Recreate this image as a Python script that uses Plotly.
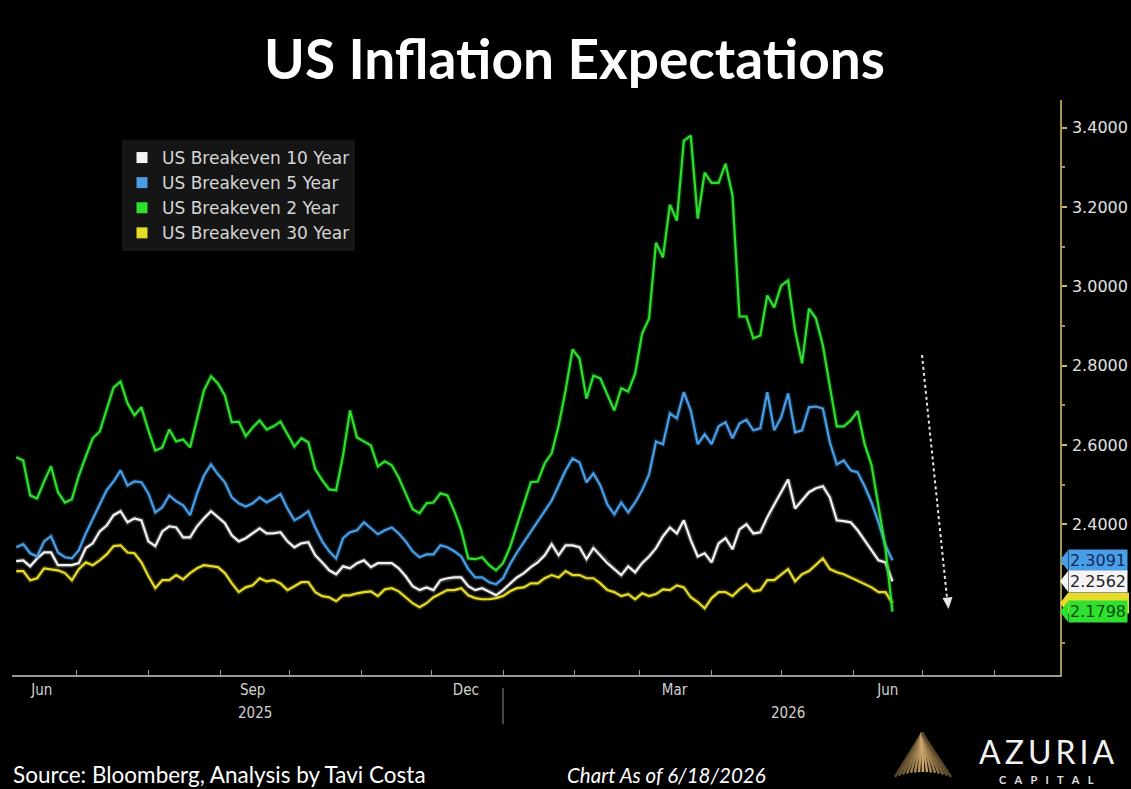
import pandas as pd
import plotly.graph_objects as go

# Observation dates (every third calendar day up to the chart date)
dates = pd.date_range("2025-06-05", "2026-06-18", freq="3D")

be10 = [2.307, 2.309, 2.294, 2.314, 2.329, 2.329, 2.297, 2.297, 2.297, 2.302,
        2.340, 2.352, 2.382, 2.397, 2.423, 2.433, 2.405, 2.415, 2.410, 2.357,
        2.345, 2.382, 2.395, 2.392, 2.367, 2.367, 2.395, 2.415, 2.433, 2.418,
        2.403, 2.372, 2.357, 2.365, 2.377, 2.390, 2.377, 2.377, 2.380, 2.357,
        2.342, 2.352, 2.355, 2.322, 2.304, 2.284, 2.274, 2.294, 2.289, 2.302,
        2.309, 2.292, 2.302, 2.302, 2.302, 2.289, 2.269, 2.244, 2.234, 2.241,
        2.234, 2.259, 2.264, 2.266, 2.266, 2.244, 2.234, 2.239, 2.231, 2.221,
        2.234, 2.251, 2.266, 2.277, 2.292, 2.304, 2.322, 2.350, 2.322, 2.347,
        2.347, 2.342, 2.312, 2.340, 2.322, 2.302, 2.287, 2.272, 2.294, 2.279,
        2.302, 2.319, 2.340, 2.370, 2.392, 2.377, 2.410, 2.360, 2.319, 2.327,
        2.304, 2.352, 2.365, 2.337, 2.387, 2.400, 2.377, 2.380, 2.418, 2.450,
        2.481, 2.513, 2.440, 2.460, 2.481, 2.491, 2.496, 2.468, 2.410, 2.408,
        2.405, 2.385, 2.360, 2.337, 2.309, 2.304, 2.2562]

be5 = [2.342, 2.350, 2.327, 2.319, 2.357, 2.370, 2.329, 2.317, 2.314, 2.335,
       2.377, 2.415, 2.450, 2.486, 2.508, 2.536, 2.498, 2.508, 2.506, 2.478,
       2.430, 2.443, 2.473, 2.458, 2.448, 2.423, 2.478, 2.523, 2.551, 2.526,
       2.506, 2.468, 2.453, 2.445, 2.453, 2.468, 2.455, 2.465, 2.476, 2.440,
       2.410, 2.420, 2.433, 2.392, 2.357, 2.332, 2.314, 2.365, 2.380, 2.385,
       2.405, 2.390, 2.375, 2.385, 2.392, 2.377, 2.357, 2.332, 2.317, 2.324,
       2.324, 2.347, 2.342, 2.332, 2.319, 2.287, 2.266, 2.266, 2.254, 2.249,
       2.264, 2.299, 2.329, 2.355, 2.382, 2.408, 2.435, 2.460, 2.498, 2.536,
       2.566, 2.556, 2.506, 2.528, 2.498, 2.450, 2.425, 2.455, 2.430, 2.455,
       2.486, 2.526, 2.609, 2.602, 2.680, 2.667, 2.733, 2.687, 2.602, 2.627,
       2.602, 2.647, 2.657, 2.617, 2.654, 2.664, 2.637, 2.642, 2.733, 2.637,
       2.670, 2.730, 2.632, 2.637, 2.695, 2.697, 2.692, 2.607, 2.551, 2.561,
       2.536, 2.531, 2.496, 2.455, 2.405, 2.347, 2.3091]

be2 = [2.569, 2.561, 2.473, 2.465, 2.508, 2.546, 2.481, 2.455, 2.463, 2.523,
       2.571, 2.617, 2.634, 2.692, 2.745, 2.760, 2.705, 2.675, 2.695, 2.637,
       2.586, 2.594, 2.639, 2.609, 2.614, 2.594, 2.667, 2.738, 2.773, 2.755,
       2.725, 2.657, 2.659, 2.622, 2.644, 2.662, 2.639, 2.647, 2.659, 2.629,
       2.596, 2.617, 2.607, 2.539, 2.511, 2.488, 2.486, 2.574, 2.687, 2.619,
       2.609, 2.599, 2.546, 2.559, 2.549, 2.518, 2.478, 2.438, 2.428, 2.453,
       2.455, 2.478, 2.473, 2.433, 2.385, 2.314, 2.312, 2.317, 2.297, 2.284,
       2.302, 2.342, 2.397, 2.450, 2.506, 2.508, 2.554, 2.579, 2.649, 2.738,
       2.841, 2.818, 2.717, 2.775, 2.768, 2.727, 2.687, 2.743, 2.735, 2.780,
       2.881, 2.919, 3.110, 3.073, 3.206, 3.166, 3.367, 3.380, 3.171, 3.287,
       3.261, 3.261, 3.309, 3.229, 2.924, 2.924, 2.869, 2.876, 2.977, 2.947,
       3.002, 3.015, 2.889, 2.806, 2.944, 2.919, 2.851, 2.748, 2.647, 2.647,
       2.662, 2.685, 2.602, 2.549, 2.448, 2.340, 2.1798]

be30 = [2.282, 2.282, 2.259, 2.264, 2.289, 2.287, 2.284, 2.277, 2.259, 2.287,
        2.304, 2.297, 2.309, 2.324, 2.345, 2.347, 2.329, 2.327, 2.304, 2.269,
        2.239, 2.259, 2.259, 2.272, 2.261, 2.277, 2.289, 2.297, 2.294, 2.292,
        2.277, 2.251, 2.229, 2.241, 2.246, 2.264, 2.256, 2.259, 2.251, 2.234,
        2.244, 2.254, 2.254, 2.229, 2.219, 2.216, 2.206, 2.221, 2.221, 2.226,
        2.229, 2.231, 2.219, 2.236, 2.239, 2.231, 2.216, 2.201, 2.191, 2.201,
        2.216, 2.226, 2.234, 2.234, 2.239, 2.221, 2.214, 2.211, 2.211, 2.214,
        2.219, 2.231, 2.239, 2.241, 2.251, 2.251, 2.264, 2.272, 2.266, 2.282,
        2.272, 2.272, 2.264, 2.264, 2.251, 2.234, 2.229, 2.219, 2.224, 2.211,
        2.226, 2.219, 2.224, 2.236, 2.234, 2.246, 2.241, 2.216, 2.204, 2.188,
        2.214, 2.229, 2.229, 2.219, 2.236, 2.249, 2.231, 2.234, 2.259, 2.259,
        2.274, 2.287, 2.256, 2.274, 2.282, 2.297, 2.314, 2.287, 2.279, 2.274,
        2.266, 2.259, 2.251, 2.241, 2.229, 2.229, 2.2011]

series_names = ["US Breakeven 10 Year", "US Breakeven 5 Year",
                "US Breakeven 2 Year", "US Breakeven 30 Year"]
series_values = [be10, be5, be2, be30]
series_colors = ["#f4f4f4", "#4a9ee8", "#2fe02f", "#e8dc2a"]
tag_text_colors = ["#222222", "#0b2a55", "#0a4a0a", "#4a4400"]

month_label_dates = ["2025-06-16", "2025-09-15", "2025-12-16", "2026-03-16", "2026-06-16"]
month_labels = ["Jun", "Sep", "Dec", "Mar", "Jun"]
month_starts = pd.date_range("2025-07-01", "2026-08-01", freq="MS")
year_label_dates = ["2025-09-16", "2026-05-04"]
year_labels = ["2025", "2026"]
year_break = "2026-01-01"

y_ticks = [2.4, 2.6, 2.8, 3.0, 3.2, 3.4]
y_minor = [2.1, 2.3, 2.5, 2.7, 2.9, 3.1, 3.3]

# plot-area geometry in page pixels (used for decorations outside the data)
PL, PR, PT, PB = 12, 1060, 100, 675


def paper(x, y):
    return (x - PL) / (PR - PL), (PB - y) / (PB - PT)


fig = go.Figure()

# draw order: 30Y, 10Y, 5Y, 2Y on top
for i in [3, 0, 1, 2]:
    fig.add_trace(go.Scatter(x=dates, y=series_values[i], mode="lines",
                             line=dict(color=series_colors[i], width=5),
                             opacity=0.22, hoverinfo="skip", showlegend=False))
    fig.add_trace(go.Scatter(x=dates, y=series_values[i], mode="lines",
                             name=series_names[i],
                             line=dict(color=series_colors[i], width=2.2),
                             showlegend=False))

# legend entries with square swatches
for name, color in zip(series_names, series_colors):
    fig.add_trace(go.Scatter(x=[None], y=[None], mode="markers", name=name,
                             marker=dict(symbol="square", size=11, color=color)))

shapes = []
annotations = []

TAG_HALF = 0.026
tip_w = 8 / (PR - PL)
tag_right = (1129 - PL) / (PR - PL)

# the 30Y tag sits underneath the 2Y tag, so only its outline shows
v30 = be30[-1]
shapes.append(dict(type="path", xref="paper", yref="y",
                   path=(f"M 1.0,{v30} L {1 + tip_w},{v30 + TAG_HALF} "
                         f"L {tag_right},{v30 + TAG_HALF} L {tag_right},{v30 - TAG_HALF} "
                         f"L {1 + tip_w},{v30 - TAG_HALF} Z"),
                   fillcolor=series_colors[3], line=dict(width=0)))

# last-value tags on the right axis
for i in [2, 1, 0]:
    v = series_values[i][-1]
    shapes.append(dict(type="path", xref="paper", yref="y",
                       path=f"M 1.0,{v} L {1 + tip_w},{v + TAG_HALF} L {1 + tip_w},{v - TAG_HALF} Z",
                       fillcolor=series_colors[i], line=dict(width=0)))
    annotations.append(dict(x=1.0, xref="paper", y=v, yref="y", xanchor="left",
                            yanchor="middle", xshift=8, showarrow=False,
                            text=f"{v:.4f}", bgcolor=series_colors[i], borderpad=1,
                            font=dict(family="DejaVu Sans", size=16,
                                      color=tag_text_colors[i])))

# dashed downward arrow
x0, y0 = paper(922, 355)
x1, y1 = paper(947, 598)
shapes.append(dict(type="line", xref="paper", yref="paper", x0=x0, y0=y0, x1=x1, y1=y1,
                   line=dict(color="#e6e6e6", width=2, dash="dot")))
ta, tb, tc = paper(948.5, 609), paper(952.5, 597), paper(942.5, 598)
shapes.append(dict(type="path", xref="paper", yref="paper",
                   path=f"M {ta[0]},{ta[1]} L {tb[0]},{tb[1]} L {tc[0]},{tc[1]} Z",
                   fillcolor="#e6e6e6", line=dict(width=0)))

# year separator below the date axis
shapes.append(dict(type="line", xref="x", yref="paper", x0=year_break, x1=year_break,
                   y0=paper(0, 688)[1], y1=paper(0, 724)[1],
                   line=dict(color="#8a8a8a", width=1)))

# logo fan
apex = (922, 733)
n_rays = 15
for k in range(n_rays):
    t = k / (n_rays - 1)
    bx = 895 + 56 * t
    by = 777 - 5 * (1 - (2 * t - 1) ** 2)
    a = paper(*apex)
    b = paper(bx, by)
    centre = 1 - abs(2 * t - 1)
    r = int(90 + 120 * centre)
    g = int(70 + 100 * centre)
    bl = int(40 + 70 * centre)
    shapes.append(dict(type="line", xref="paper", yref="paper",
                       x0=a[0], y0=a[1], x1=b[0], y1=b[1],
                       line=dict(color=f"rgb({r},{g},{bl})", width=2.5)))

for d, lab in zip(year_label_dates, year_labels):
    annotations.append(dict(x=d, xref="x", y=paper(0, 713)[1], yref="paper",
                            text=lab, showarrow=False, xanchor="center", yanchor="middle",
                            font=dict(family="DejaVu Sans Condensed, DejaVu Sans", size=15,
                                      color="#d2d2d2")))

annotations += [
    dict(x=paper(11, 0)[0], xref="paper", y=paper(0, 774)[1], yref="paper", xanchor="left",
         yanchor="middle", showarrow=False, text="Source: Bloomberg, Analysis by Tavi Costa",
         font=dict(family="Lato", size=22.5, color="#ffffff")),
    dict(x=paper(666, 0)[0], xref="paper", y=paper(0, 775)[1], yref="paper",
         xanchor="center", yanchor="middle", showarrow=False,
         text="<i>Chart As of 6/18/2026</i>",
         font=dict(family="Lato", size=20.5, color="#ffffff")),
    dict(x=paper(1046, 0)[0], xref="paper", y=paper(0, 751)[1], yref="paper",
         xanchor="center", yanchor="middle", showarrow=False,
         text="A\u2009Z\u2009U\u2009R\u2009I\u2009A",
         font=dict(family="Lato", size=32, color="#f2f2f2")),
    dict(x=paper(1046, 0)[0], xref="paper", y=paper(0, 779)[1], yref="paper",
         xanchor="center", yanchor="middle", showarrow=False,
         text="C\u2003A\u2003P\u2003I\u2003T\u2003A\u2003L",
         font=dict(family="Lato", size=11, color="#e0e0e0", weight="bold")),
]

fig.update_layout(
    width=1131, height=789,
    margin=dict(l=PL, r=1131 - PR, t=PT, b=789 - PB, autoexpand=False),
    paper_bgcolor="#000000", plot_bgcolor="#000000",
    title=dict(text="<b>US Inflation Expectations</b>", xref="container", x=0.508,
               xanchor="center", yref="container", y=1 - 60 / 789, yanchor="middle",
               font=dict(family="Lato", size=55, color="#ffffff")),
    legend=dict(x=paper(122, 0)[0], y=paper(0, 140)[1], xanchor="left", yanchor="top",
                bgcolor="#151515", borderwidth=0, itemwidth=30,
                font=dict(family="DejaVu Sans", size=17, color="#d6d6d6"),
                tracegroupgap=0),
    shapes=shapes,
    annotations=annotations,
    showlegend=True,
)

fig.update_xaxes(
    type="date", range=["2025-06-03 04:00", "2026-08-29 07:00"], automargin=False,
    showgrid=False, zeroline=False,
    showline=True, linecolor="#9a9a9a", linewidth=2,
    tickmode="array", tickvals=month_label_dates, ticktext=month_labels, ticks="",
    tickfont=dict(family="DejaVu Sans Condensed, DejaVu Sans", size=15, color="#d2d2d2"),
    minor=dict(tickmode="array", tickvals=list(month_starts), ticks="inside",
               ticklen=5, tickcolor="#9a9a9a", tickwidth=1, showgrid=False),
)

fig.update_yaxes(
    side="right", range=[2.02, 3.47], automargin=False,
    showgrid=False, zeroline=False,
    showline=True, linecolor="#a39650", linewidth=1.5,
    tickmode="array", tickvals=y_ticks, tickformat=".4f",
    ticks="outside", ticklen=5, tickcolor="#c8b860", tickwidth=1.5,
    ticklabelstandoff=2,
    tickfont=dict(family="DejaVu Sans", size=16, color="#e2e2e2"),
    minor=dict(tickmode="array", tickvals=y_minor, ticks="outside", ticklen=3,
               tickcolor="#a39650", showgrid=False),
)

fig.write_html("out.html")
